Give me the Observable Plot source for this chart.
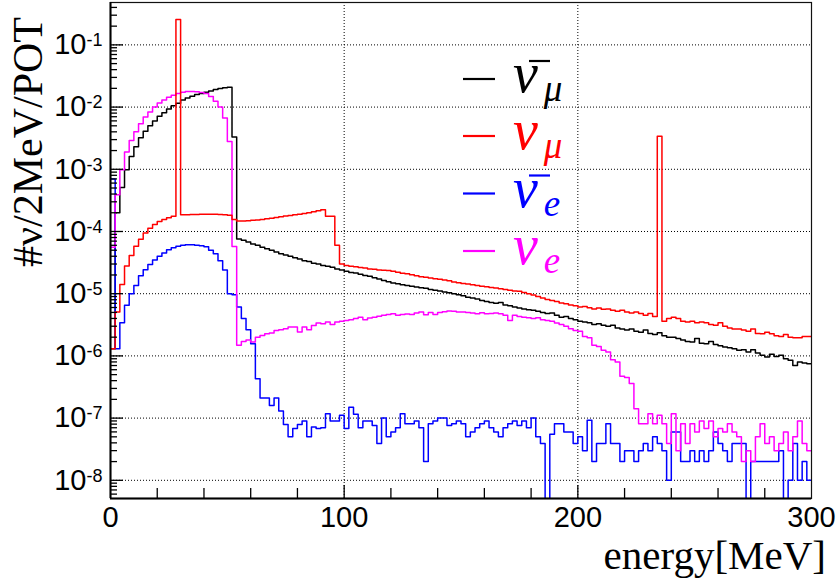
<!DOCTYPE html>
<html><head><meta charset="utf-8">
<script src="https://cdn.jsdelivr.net/npm/d3@7"></script>
<script src="https://cdn.jsdelivr.net/npm/@observablehq/plot@0.6"></script>
<style>
html,body{margin:0;padding:0;background:#fff;}
#chart{position:relative;width:837px;height:578px;overflow:hidden;}
</style></head><body><div id="chart"></div>
<script>
// ---- data (bin width 2 MeV, 150 bins from 0 to 300 MeV), units: #nu / 2MeV / POT
const binWidth = 2;
const xDomain = [0, 300];
const yDomain = [5.1e-9, 0.48];
const majorY = [1e-8, 1e-7, 1e-6, 1e-5, 1e-4, 1e-3, 1e-2, 1e-1];
const xTickLabels = [0, 100, 200, 300];

const numubar = [
 1.3e-6, 2.0e-4, 5.1e-4, 9.8e-4, 1.6e-3, 2.3e-3, 3.2e-3, 4.1e-3, 5.0e-3, 6.0e-3,
 7.1e-3, 8.1e-3, 9.3e-3, 1.05e-2, 1.15e-2, 1.3e-2, 1.4e-2, 1.5e-2, 1.6e-2, 1.65e-2,
 1.73e-2, 1.82e-2, 1.91e-2, 1.99e-2, 2.04e-2, 2.09e-2, 3.3e-3, 7.6e-5, 7.2e-5, 6.75e-5,
 6.3e-5, 6.0e-5, 5.6e-5, 5.3e-5, 5.0e-5, 4.7e-5, 4.4e-5, 4.2e-5, 4.0e-5, 3.8e-5,
 3.6e-5, 3.4e-5, 3.3e-5, 3.1e-5, 3.0e-5, 2.85e-5, 2.75e-5, 2.65e-5, 2.5e-5, 2.4e-5,
 2.3e-5, 2.2e-5, 2.15e-5, 2.05e-5, 1.97e-5, 1.9e-5, 1.8e-5, 1.72e-5, 1.63e-5, 1.56e-5,
 1.48e-5, 1.44e-5, 1.39e-5, 1.36e-5, 1.32e-5, 1.28e-5, 1.25e-5, 1.22e-5, 1.17e-5, 1.14e-5,
 1.1e-5, 1.06e-5, 1.04e-5, 1.0e-5, 9.6e-6, 9.3e-6, 8.8e-6, 8.5e-6, 8.2e-6, 7.8e-6,
 7.5e-6, 7.2e-6, 7.0e-6, 7.2e-6, 6.6e-6, 6.4e-6, 6.1e-6, 5.9e-6, 5.7e-6, 5.5e-6,
 5.4e-6, 5.2e-6, 5.0e-6, 4.8e-6, 4.9e-6, 4.5e-6, 4.2e-6, 4.3e-6, 4.0e-6, 3.8e-6,
 3.6e-6, 3.5e-6, 3.4e-6, 3.2e-6, 3.3e-6, 3.1e-6, 3.0e-6, 3.1e-6, 2.8e-6, 2.7e-6,
 2.6e-6, 2.7e-6, 2.5e-6, 2.4e-6, 2.6e-6, 2.3e-6, 2.2e-6, 2.35e-6, 2.1e-6, 2.0e-6,
 2.0e-6, 1.9e-6, 1.8e-6, 1.7e-6, 1.67e-6, 1.9e-6, 1.6e-6, 1.57e-6, 1.7e-6, 1.53e-6,
 1.46e-6, 1.39e-6, 1.35e-6, 1.3e-6, 1.23e-6, 1.26e-6, 1.15e-6, 1.26e-6, 1.11e-6, 1.02e-6,
 9.6e-7, 1.06e-6, 9.8e-7, 1.02e-6, 9.0e-7, 8.5e-7, 7.0e-7, 8.0e-7, 7.7e-7, 7.5e-7
];

const numu = [
 1.3e-6, 5.1e-6, 1.4e-5, 2.8e-5, 4.1e-5, 5.8e-5, 7.5e-5, 9.5e-5, 1.13e-4, 1.3e-4,
 1.45e-4, 1.56e-4, 1.66e-4, 1.75e-4, 0.255, 1.86e-4, 1.86e-4, 1.87e-4, 1.88e-4, 1.89e-4,
 1.9e-4, 1.9e-4, 1.9e-4, 1.88e-4, 1.86e-4, 1.82e-4, 1.56e-4, 1.47e-4, 1.47e-4, 1.49e-4,
 1.51e-4, 1.53e-4, 1.56e-4, 1.6e-4, 1.64e-4, 1.68e-4, 1.72e-4, 1.77e-4, 1.8e-4, 1.86e-4,
 1.9e-4, 1.95e-4, 2.0e-4, 2.07e-4, 2.15e-4, 2.23e-4, 1.75e-4, 1.75e-4, 6.0e-5, 3.0e-5,
 2.85e-5, 2.75e-5, 2.7e-5, 2.63e-5, 2.6e-5, 2.5e-5, 2.48e-5, 2.4e-5, 2.38e-5, 2.36e-5,
 2.3e-5, 2.22e-5, 2.14e-5, 2.09e-5, 2.01e-5, 1.94e-5, 1.87e-5, 1.83e-5, 1.78e-5, 1.74e-5,
 1.7e-5, 1.66e-5, 1.62e-5, 1.54e-5, 1.5e-5, 1.46e-5, 1.43e-5, 1.39e-5, 1.36e-5, 1.32e-5,
 1.29e-5, 1.26e-5, 1.23e-5, 1.2e-5, 1.17e-5, 1.14e-5, 1.11e-5, 1.09e-5, 1.05e-5, 1.0e-5,
 9.5e-6, 9.0e-6, 8.5e-6, 8.1e-6, 7.8e-6, 7.5e-6, 7.1e-6, 6.9e-6, 6.6e-6, 6.4e-6,
 6.1e-6, 6.25e-6, 5.95e-6, 5.7e-6, 5.9e-6, 5.6e-6, 5.7e-6, 5.4e-6, 5.2e-6, 5.4e-6,
 5.1e-6, 4.9e-6, 5.1e-6, 4.8e-6, 4.5e-6, 4.8e-6, 4.3e-6, 3.4e-3, 3.6e-6, 4.0e-6,
 4.2e-6, 4.0e-6, 3.6e-6, 3.5e-6, 3.6e-6, 3.4e-6, 3.5e-6, 3.4e-6, 3.2e-6, 3.1e-6,
 3.4e-6, 3.0e-6, 2.8e-6, 2.7e-6, 2.7e-6, 2.6e-6, 2.5e-6, 2.7e-6, 2.3e-6, 2.27e-6,
 2.4e-6, 2.27e-6, 2.1e-6, 2.06e-6, 2.2e-6, 2.0e-6, 1.96e-6, 1.96e-6, 2.06e-6, 2.06e-6
];

const nuebar = [
 7.0e-4, 1.3e-6, 3.4e-6, 6.5e-6, 1.0e-5, 1.36e-5, 1.94e-5, 2.43e-5, 2.95e-5, 3.47e-5,
 4.0e-5, 4.5e-5, 5.1e-5, 5.5e-5, 5.8e-5, 6.0e-5, 6.1e-5, 6.1e-5, 6.0e-5, 5.9e-5,
 5.7e-5, 5.0e-5, 4.4e-5, 3.4e-5, 2.4e-5, 1.0e-5, 9.6e-6, 6.1e-6, 4.0e-6, 2.63e-6,
 1.57e-6, 4.3e-7, 2.1e-7, 2.1e-7, 1.6e-7, 2.1e-7, 1.3e-7, 7.9e-8, 5.0e-8, 6.8e-8,
 7.9e-8, 9.0e-8, 5.0e-8, 7.2e-8, 6.8e-8, 7.0e-8, 1.18e-7, 9.0e-8, 9.0e-8, 1.11e-7,
 6.8e-8, 1.5e-7, 1.15e-7, 7.0e-8, 9.0e-8, 9.0e-8, 7.6e-8, 3.9e-8, 1.0e-7, 5.0e-8,
 6.0e-8, 7.0e-8, 1.18e-7, 8.1e-8, 8.1e-8, 9.0e-8, 7.0e-8, 2.0e-8, 8.1e-8, 9.0e-8,
 1.0e-7, 1.0e-7, 7.6e-8, 8.1e-8, 9.0e-8, 8.1e-8, 5.0e-8, 6.0e-8, 7.0e-8, 8.1e-8,
 9.0e-8, 7.0e-8, 6.0e-8, 5.0e-8, 7.0e-8, 8.1e-8, 9.0e-8, 7.6e-8, 9.0e-8, 7.0e-8,
 1.0e-7, 5.0e-8, 3.9e-8, 0, 5.5e-8, 8.1e-8, 8.1e-8, 6.0e-8, 6.0e-8, 3.9e-8,
 5.0e-8, 3.0e-8, 9.2e-8, 2.0e-8, 3.9e-8, 3.9e-8, 8.1e-8, 3.9e-8, 3.9e-8, 2.0e-8,
 3.0e-8, 3.0e-8, 2.0e-8, 3.0e-8, 3.9e-8, 3.0e-8, 5.0e-8, 3.9e-8, 3.0e-8, 1.0e-8,
 6.0e-8, 6.0e-8, 2.0e-8, 2.0e-8, 3.0e-8, 2.0e-8, 3.0e-8, 2.0e-8, 3.0e-8, 6.0e-8,
 3.9e-8, 3.0e-8, 2.0e-8, 3.9e-8, 3.9e-8, 3.9e-8, 0, 2.0e-8, 2.0e-8, 2.0e-8,
 2.0e-8, 2.0e-8, 2.0e-8, 3.0e-8, 0, 1.0e-8, 3.9e-8, 1.0e-8, 2.0e-8, 1.0e-8
];

const nue = [
 5.6e-5, 3.9e-4, 9.8e-4, 1.9e-3, 2.9e-3, 4.0e-3, 5.4e-3, 6.9e-3, 8.3e-3, 1.0e-2,
 1.16e-2, 1.3e-2, 1.44e-2, 1.55e-2, 1.65e-2, 1.73e-2, 1.78e-2, 1.78e-2, 1.76e-2, 1.71e-2,
 1.65e-2, 1.48e-2, 1.24e-2, 1.0e-2, 6.7e-3, 2.8e-3, 5.75e-5, 1.48e-6, 1.71e-6, 1.8e-6,
 1.67e-6, 2.0e-6, 2.13e-6, 2.27e-6, 2.33e-6, 2.57e-6, 2.63e-6, 2.73e-6, 2.91e-6, 2.91e-6,
 2.42e-6, 2.91e-6, 2.63e-6, 3.09e-6, 3.37e-6, 3.3e-6, 3.5e-6, 3.2e-6, 3.5e-6, 3.6e-6,
 3.7e-6, 3.8e-6, 4.0e-6, 4.2e-6, 3.8e-6, 4.05e-6, 4.2e-6, 4.35e-6, 4.5e-6, 4.64e-6,
 4.76e-6, 4.5e-6, 4.64e-6, 4.7e-6, 4.64e-6, 4.88e-6, 5.07e-6, 4.6e-6, 5.0e-6, 4.64e-6,
 5.0e-6, 5.13e-6, 5.25e-6, 5.2e-6, 5.07e-6, 5.07e-6, 5.0e-6, 4.88e-6, 4.76e-6, 4.94e-6,
 4.76e-6, 4.8e-6, 4.88e-6, 4.76e-6, 4.5e-6, 3.7e-6, 4.5e-6, 4.3e-6, 4.2e-6, 4.1e-6,
 4.0e-6, 4.1e-6, 3.8e-6, 3.7e-6, 3.6e-6, 3.37e-6, 3.2e-6, 3.0e-6, 2.73e-6, 2.57e-6,
 2.5e-6, 2.06e-6, 1.96e-6, 1.48e-6, 1.42e-6, 1.23e-6, 1.15e-6, 8.7e-7, 8.0e-7, 4.7e-7,
 4.5e-7, 3.6e-7, 1.42e-7, 8.1e-8, 8.1e-8, 1.18e-7, 8.1e-8, 1.11e-7, 8.1e-8, 3.9e-8,
 1.18e-7, 3.0e-8, 8.1e-8, 3.9e-8, 8.1e-8, 6.0e-8, 9.0e-8, 6.8e-8, 9.0e-8, 5.0e-8,
 6.8e-8, 6.0e-8, 8.1e-8, 6.0e-8, 5.0e-8, 2.0e-8, 3.0e-8, 2.0e-8, 5.0e-8, 8.1e-8,
 3.9e-8, 5.0e-8, 3.0e-8, 3.9e-8, 6.0e-8, 3.0e-8, 5.0e-8, 9.0e-8, 3.9e-8, 3.0e-8
];

// ---- build histogram outlines (left edge of each bin + closing right edge)
function outline(values, key) {
  const pts = values.map((v, i) => ({series: key, e: i * binWidth, v}));
  pts.push({series: key, e: values.length * binWidth, v: values[values.length - 1]});
  return pts;
}
const series = [
  {key: "numubar", values: numubar, color: "#000000"},
  {key: "nuebar", values: nuebar, color: "#0000ff"},
  {key: "nue", values: nue, color: "#ff00ff"},
  {key: "numu", values: numu, color: "#ff0000"}
];
const floorVal = 1e-9; // empty bins drop below the frame (clipped)

const minorY = [];
for (let e = -9; e <= -1; e++) for (let k = 2; k <= 9; k++) {
  const v = k * Math.pow(10, e);
  if (v >= yDomain[0] && v <= yDomain[1]) minorY.push(v);
}
const minorX = d3.range(20, 300, 20).filter(v => v % 100 !== 0);

const dotted = {stroke: "#000", strokeOpacity: 1, strokeWidth: 1, strokeDasharray: "1,2"};

const plot = Plot.plot({
  width: 837, height: 578,
  marginLeft: 110, marginRight: 26, marginTop: 2, marginBottom: 80,
  style: {fontFamily: "'Liberation Sans', Arial, sans-serif", fontSize: "28px", background: "#fff", color: "#000"},
  x: {domain: xDomain, axis: null},
  y: {type: "log", domain: yDomain, axis: null},
  marks: [
    Plot.gridY(majorY, dotted),
    Plot.gridX([100, 200], dotted),
    ...series.map(s => Plot.line(outline(s.values, s.key), {
      x: "e", y: d => Math.max(d.v, floorVal), curve: "step-after",
      stroke: s.color, strokeWidth: 1.5, clip: true
    })),
    Plot.frame({stroke: "#111", strokeWidth: 1.2}),
    Plot.ruleX([xDomain[0]], {stroke: "#000", strokeWidth: 2}),
    Plot.ruleY([yDomain[0]], {stroke: "#000", strokeWidth: 2}),
    Plot.axisY(majorY, {anchor: "left", tickSize: -13, fill: "none", strokeWidth: 1.3, label: null}),
    Plot.axisY(minorY, {anchor: "left", tickSize: -7, fill: "none", strokeWidth: 1.3, label: null}),
    Plot.axisY(majorY, {anchor: "left", tickSize: 0, tickPadding: 8, fontSize: 29, label: null,
      tickFormat: d => "10^" + Math.round(Math.log10(d))}),
    Plot.axisX([100, 200], {anchor: "bottom", tickSize: -13, fill: "none", strokeWidth: 1.3, label: null}),
    Plot.axisX(minorX, {anchor: "bottom", tickSize: -10, fill: "none", strokeWidth: 1.3, label: null}),
    Plot.axisX(xTickLabels, {anchor: "bottom", tickSize: 0, tickPadding: 8, fontSize: 29, label: null,
      tickFormat: d => String(d)})
  ]
});
document.getElementById("chart").appendChild(plot);

const svg = d3.select(plot);
// superscript exponents on y tick labels
svg.selectAll('g[aria-label="y-axis tick label"] text').each(function () {
  const parts = this.textContent.split("^");
  const t = d3.select(this);
  t.text(parts[0]);
  t.append("tspan").attr("dy", -8).attr("font-size", "18px").text(parts[1]);
});

const serif = "'Liberation Serif', 'Times New Roman', serif";
// axis titles
svg.append("text")
  .attr("transform", "translate(42,17) rotate(-90)")
  .attr("text-anchor", "end")
  .attr("font-family", serif)
  .attr("font-size", 42).attr("fill", "#000")
  .text("#ν/2MeV/POT");
svg.append("text")
  .attr("x", 826).attr("y", 569)
  .attr("text-anchor", "end")
  .attr("font-family", serif)
  .attr("font-size", 41).attr("fill", "#000")
  .text("energy[MeV]");

// legend
const legendItems = [
  {color: "#000000", sub: "μ", bar: true},
  {color: "#ff0000", sub: "μ", bar: false},
  {color: "#0000ff", sub: "e", bar: true},
  {color: "#ff00ff", sub: "e", bar: false}
];
const legendRowY = [79, 136, 193.5, 251];
const lg = svg.append("g").attr("font-family", serif).attr("text-anchor", "start");
legendItems.forEach((it, i) => {
  const y = legendRowY[i];
  lg.append("line").attr("x1", 463).attr("x2", 495).attr("y1", y).attr("y2", y)
    .attr("stroke", it.color).attr("stroke-width", 2.2);
  const t = lg.append("text").attr("x", 513).attr("y", y + 13).attr("text-anchor", "start")
    .attr("fill", it.color).attr("font-style", "italic").attr("font-size", 56);
  t.append("tspan").text("ν");
  t.append("tspan").attr("dy", 9).attr("dx", 6).attr("font-size", 37).text(it.sub);
  if (it.bar) {
    lg.append("line").attr("x1", 529).attr("x2", 550).attr("y1", y - 18).attr("y2", y - 18)
      .attr("stroke", it.color).attr("stroke-width", 2.2);
  }
});
</script>
</body></html>
